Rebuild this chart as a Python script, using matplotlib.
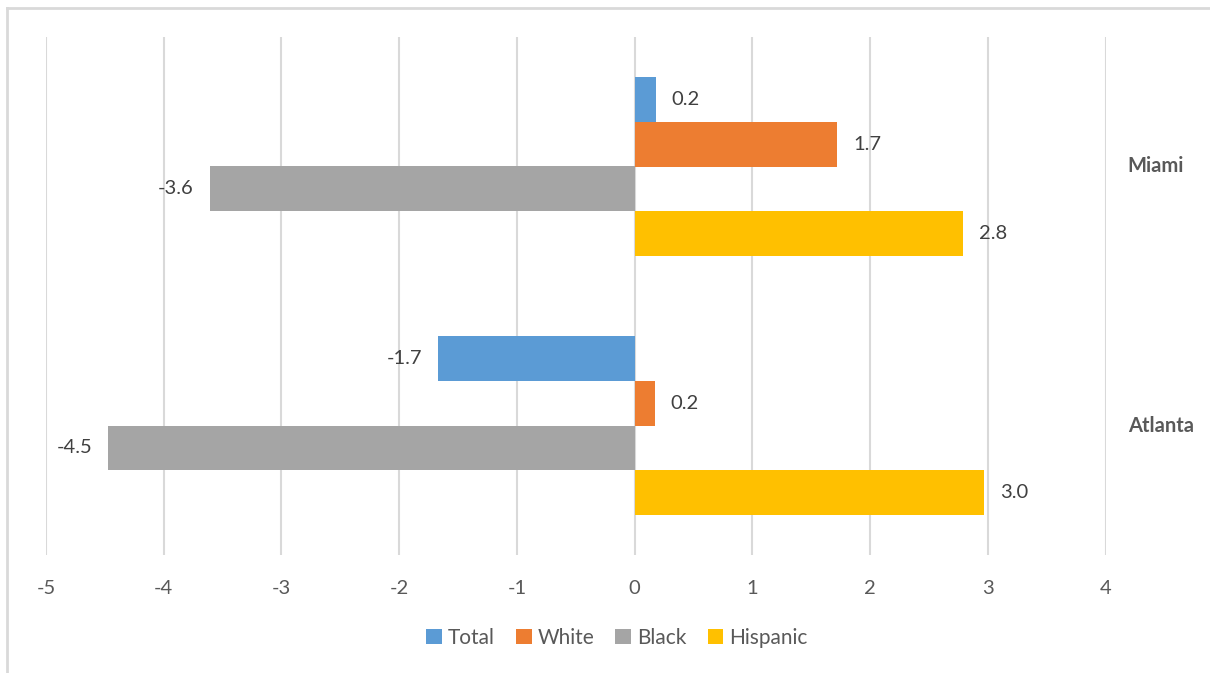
import matplotlib.pyplot as plt
from matplotlib.patches import Patch
from matplotlib.lines import Line2D
import numpy as np

plt.rcParams['font.family'] = ['Lato', 'DejaVu Sans']

# Veriler
cities = ['Atlanta', 'Miami']
series = ['Total', 'White', 'Black', 'Hispanic']
values = {
    'Total':    [-1.67, 0.18],
    'White':    [0.17, 1.72],
    'Black':    [-4.47, -3.61],
    'Hispanic': [2.97, 2.79],
}
labels = {
    'Total':    ['-1.7', '0.2'],
    'White':    ['0.2', '1.7'],
    'Black':    ['-4.5', '-3.6'],
    'Hispanic': ['3.0', '2.8'],
}
colors = ['#5b9bd5', '#ed7d31', '#a5a5a5', '#ffc000']
xticks = [-5, -4, -3, -2, -1, 0, 1, 2, 3, 4]

W, H = 1210, 673
fig = plt.figure(figsize=(W / 100, H / 100), dpi=100)
ax = fig.add_axes([46 / W, 1 - 555 / H, (1105.5 - 46) / W, (555 - 37) / H])

# dis cerceve: sadece sol ve ust kenar gorunuyor
fig.add_artist(Line2D([7 / W, 7 / W], [0, 1 - 8 / H], transform=fig.transFigure,
                      color='#d9d9d9', linewidth=2))
fig.add_artist(Line2D([7 / W, 1], [1 - 8 / H, 1 - 8 / H], transform=fig.transFigure,
                      color='#d9d9d9', linewidth=2))

bh = 0.172
y = np.arange(len(cities))
offsets = [1.5, 0.5, -0.5, -1.5]
for s, c, off in zip(series, colors, offsets):
    bars = ax.barh(y + off * bh, values[s], height=bh, color=c, zorder=2)
    for b, v, lab in zip(bars, values[s], labels[s]):
        yc = b.get_y() + b.get_height() / 2
        if v >= 0:
            ax.annotate(lab, (v, yc), xytext=(11.5, 0), textcoords='offset points',
                        ha='left', va='center', fontsize=14.5, color='#404040')
        else:
            ax.annotate(lab, (v, yc), xytext=(-11.5, 0), textcoords='offset points',
                        ha='right', va='center', fontsize=14.5, color='#404040')

ax.set_xlim(-5, 4)
ax.set_ylim(-0.5, 1.5)
ax.set_xticks(xticks)
ax.set_xticklabels([str(t) for t in xticks])
ax.tick_params(axis='x', length=0, pad=18, labelsize=14.5, labelcolor='#595959')
ax.set_yticks([])
ax.grid(axis='x', color='#d9d9d9', linewidth=1.5, zorder=0)
ax.set_axisbelow(True)
for sp in ax.spines.values():
    sp.set_visible(False)

# kategori etiketleri sagda
for yi, name in zip(y, cities):
    ax.annotate(name, (4, yi), xytext=(16, 0), textcoords='offset points',
                ha='left', va='center', fontsize=14.5, fontweight='bold',
                color='#595959')

handles = [Patch(facecolor=c, label=s) for s, c in zip(series, colors)]
fig.legend(handles=handles, loc='center', bbox_to_anchor=(617 / W, 1 - 638 / H),
           ncol=4, frameon=False, fontsize=15, labelcolor='#595959',
           handlelength=0.75, handleheight=0.75, handletextpad=0.3, columnspacing=1.0)

fig.savefig('out.png', dpi=100)
